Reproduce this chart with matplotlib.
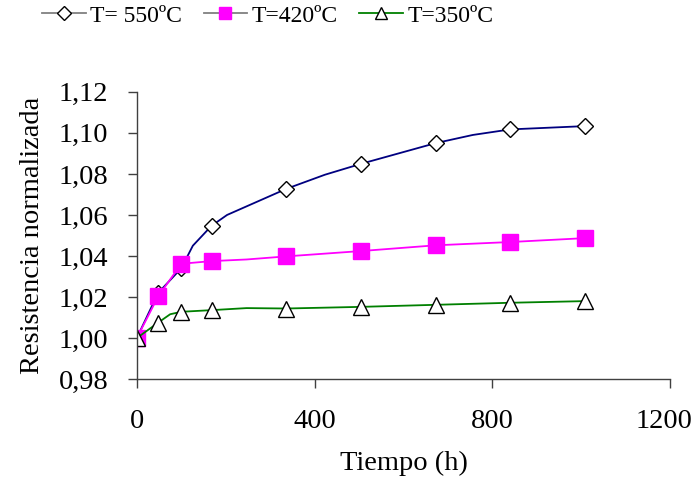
import numpy as np
import matplotlib
matplotlib.use('Agg')
import matplotlib.pyplot as plt
from matplotlib.ticker import MultipleLocator, FuncFormatter

# ============================================================
# DATOS
# ============================================================
t_550 = [0, 48, 100, 126, 168, 203, 336, 423, 504, 672, 756, 840, 1008]
r_550 = [1.000, 1.022, 1.034, 1.045, 1.0547, 1.060, 1.0727, 1.0796, 1.0849,
         1.095, 1.099, 1.1017, 1.1033]
mk_550 = [0, 1, 2, 4, 6, 8, 9, 11, 12]

t_420 = [0, 48, 100, 168, 247, 336, 504, 672, 840, 1008]
r_420 = [1.000, 1.0203, 1.0362, 1.0375, 1.0383, 1.0398, 1.0424, 1.0452,
         1.0468, 1.0487]
mk_420 = [0, 1, 2, 3, 5, 6, 7, 8, 9]

t_350 = [0, 48, 75, 100, 168, 247, 336, 504, 672, 840, 1008]
r_350 = [1.000, 1.0075, 1.0116, 1.0128, 1.0136, 1.0146, 1.0144, 1.0152,
         1.0162, 1.0172, 1.018]
mk_350 = [0, 1, 3, 4, 6, 7, 8, 9, 10]

labels = ['T= 550ºC', 'T=420ºC', 'T=350ºC']
xticks = [0, 400, 800, 1200]

plt.rcParams['font.family'] = ['Liberation Serif', 'DejaVu Serif']
FS = 20.5
FS_LEG = 17

fig = plt.figure(figsize=(6.91, 4.86), dpi=100)
ax = fig.add_axes([0.198, 0.220, 0.772, 0.591])

ax.plot(t_550, r_550, color='#000080', lw=1.3, marker='D', markevery=mk_550,
        ms=8.5, mfc='white', mec='black', mew=1.0, label=labels[0])
ax.plot(t_420, r_420, color='#FF00FF', lw=1.3, marker='s', markevery=mk_420,
        ms=11, mfc='#FF00FF', mec='#FF00FF', mew=1.0, label=labels[1])
ax.plot(t_350, r_350, color='#008000', lw=1.3, marker='^', markevery=mk_350,
        ms=11, mfc='white', mec='black', mew=1.0, label=labels[2])

ax.set_xlim(0, 1200)
ax.set_ylim(0.98, 1.12)
# la última etiqueta (1200) se dibuja aparte, un poco a la izquierda
ax.set_xticks(xticks, labels=[str(v) for v in xticks[:-1]] + [''])
ax.annotate(str(xticks[-1]), xy=(xticks[-1], 0), xycoords=('data', 'axes fraction'),
            xytext=(-4.5, -15 - 6.5), textcoords='offset points',
            ha='center', va='top', fontsize=FS)
ax.yaxis.set_major_locator(MultipleLocator(0.02))
ax.yaxis.set_major_formatter(FuncFormatter(lambda v, p: f"{v:.2f}".replace('.', ',')))

for s in ['top', 'right']:
    ax.spines[s].set_visible(False)
for s in ['left', 'bottom']:
    ax.spines[s].set_color('#404040')
    ax.spines[s].set_linewidth(1.0)
ax.tick_params(axis='both', direction='out', length=6.5, width=1.0,
               color='#404040', labelsize=FS)
ax.tick_params(axis='x', pad=15)
ax.tick_params(axis='y', pad=14)
ax.set_xlabel('Tiempo (h)', fontsize=FS, labelpad=12)
ax.set_ylabel('Resistencia normalizada', fontsize=FS, labelpad=10)

leg = fig.legend(loc='upper left', bbox_to_anchor=(42 / 691, 1 - 5 / 486), ncol=3,
                 frameon=False, fontsize=FS_LEG, handlelength=1.85,
                 columnspacing=0.9, handletextpad=0.2, borderpad=0,
                 borderaxespad=0, markerscale=0.85)
for line, c in zip(leg.get_lines(), ['#808080', '#808080', '#008000']):
    line.set_color(c)
    line.set_linewidth(1.3)

fig.savefig('out.png', dpi=100)
